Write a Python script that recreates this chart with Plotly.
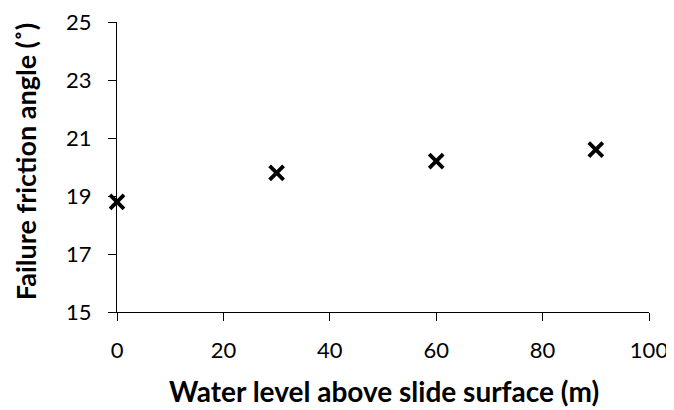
import plotly.graph_objects as go

water_level = [0, 30, 60, 90]
friction_angle = [18.8, 19.8, 20.2, 20.6]
x_ticks = [0, 20, 40, 60, 80, 100]
y_ticks = [15, 17, 19, 21, 23, 25]

fig = go.Figure()
fig.add_trace(go.Scatter(
    x=water_level, y=friction_angle, mode="markers",
    marker=dict(symbol="x-thin-open", size=14, color="black",
                line=dict(width=3.8, color="black")),
    cliponaxis=False, showlegend=False))

font = "Lato, 'Open Sans', sans-serif"
# page body has an 8px margin; figure sized to fit inside the window
fig.update_layout(
    width=666, height=402,
    margin=dict(l=109, r=25, t=14, b=98),
    paper_bgcolor="white", plot_bgcolor="white",
    font=dict(family=font, size=22, color="black"),
)
axis_common = dict(
    showgrid=False, zeroline=False,
    showline=True, linecolor="black", linewidth=1.3,
    ticks="outside", ticklen=8, tickwidth=1.3, tickcolor="black",
    tickfont=dict(size=22), automargin=False, ticklabeloverflow="allow",
)
fig.update_xaxes(range=[0, 100], tickvals=x_ticks, ticklabelstandoff=10, **axis_common)
fig.update_yaxes(range=[15, 25], tickvals=y_ticks, ticklabelstandoff=12, **axis_common)

fig.add_annotation(
    text="<b>Water level above slide surface (m)</b>",
    xref="paper", yref="paper", x=0.502, y=-0.272,
    xanchor="center", yanchor="middle", showarrow=False,
    font=dict(size=28, family=font, color="black"))
fig.add_annotation(
    text="<b>Failure friction angle (˚)</b>",
    xref="paper", yref="paper", x=-0.173, y=0.52, textangle=-90,
    xanchor="center", yanchor="middle", showarrow=False,
    font=dict(size=27, family=font, color="black"))

fig.write_html("out.html")
